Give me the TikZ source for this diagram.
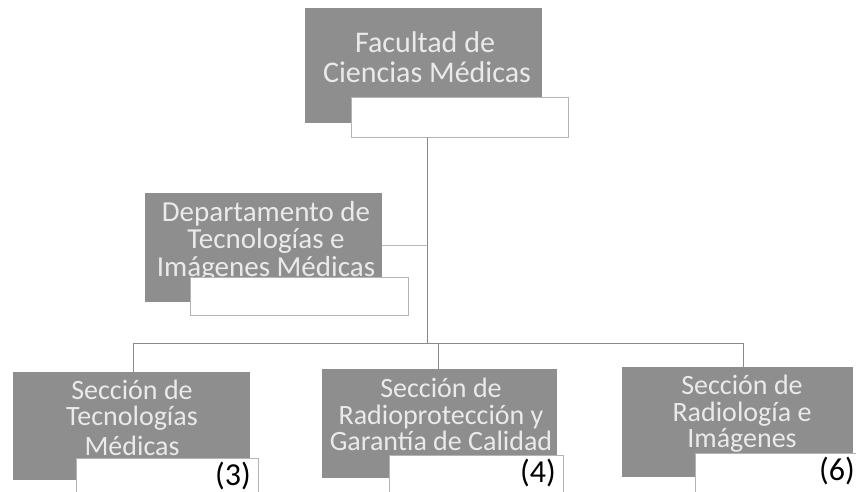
\documentclass[tikz,border=0pt]{standalone}
\usepackage{fontspec}
\setmainfont{Carlito}
\definecolor{boxgray}{HTML}{8E8E8E}
\definecolor{txtgray}{HTML}{EAEAEA}
\definecolor{linegray}{HTML}{8A8A8A}
\definecolor{wbord}{HTML}{B4B4B4}
\tikzset{
  graybox/.style={fill=boxgray, draw=none},
  whitebox/.style={fill=white, draw=wbord, line width=0.8pt},
  lblbase/.style={text=txtgray, anchor=base, inner sep=0pt, text height=14pt, text depth=2pt},
  lbltop/.style={lblbase, font=\fontsize{30}{30}\selectfont},
  lbldep/.style={lblbase, font=\fontsize{29}{29}\selectfont},
  lblsec/.style={lblbase, font=\fontsize{28}{28}\selectfont},
  numlbl/.style={text=black, anchor=base east, inner sep=0pt, font=\fontsize{32}{32}\selectfont},
  conn/.style={draw=linegray, line width=0.9pt},
}
\begin{document}
\begin{tikzpicture}[x=1pt,y=-1pt]
\useasboundingbox (0,0) rectangle (856,492);
\fill[white] (0,0) rectangle (856,492);

% Top: Facultad
\path[graybox] (305,8) rectangle (542,123);
\node[lbltop] (fac1) at (425,53) {Facultad de};
\node[lbltop] (fac2) at (427,83) {Ciencias Médicas};
\draw[whitebox] (351,97) rectangle (568,137);
\coordinate (facb) at (427,137);

% Departamento
\path[graybox] (145,193) rectangle (382,302);
\node[lbldep] (dep1) at (266,221) {Departamento de};
\node[lbldep] (dep2) at (266,248) {Tecnologías e};
\node[lbldep] (dep3) at (266,276) {Imágenes Médicas};
\draw[whitebox] (190,277) rectangle (408,315);
\coordinate (depe) at (382,245);
\coordinate (vdep) at (427,245);

% Connectors
\coordinate (hub) at (427,343);
\coordinate (h1) at (133,343);
\coordinate (h2) at (438,343);
\coordinate (h3) at (743,343);
\coordinate (s1t) at (133,372);
\coordinate (s2t) at (438,369);
\coordinate (s3t) at (743,367);
\draw[conn] (facb) -- (hub);
\draw[conn, draw=linegray!60] (depe) -- (vdep);
\draw[conn] (h1) -- (h3);
\draw[conn] (h1) -- (s1t);
\draw[conn] (h2) -- (s2t);
\draw[conn] (h3) -- (s3t);

% Section 1
\path[graybox] (13,372) rectangle (250,480);
\node[lblsec] (s1a) at (132,399) {Sección de};
\node[lblsec] (s1b) at (132,425) {Tecnologías};
\node[lblsec] (s1c) at (132,455) {Médicas};
\draw[whitebox] (76,458) rectangle (258,496);
\node[numlbl] (n3) at (251,485) {(3)};

% Section 2
\path[graybox] (322,369) rectangle (557,478);
\node[lblsec] (s2a) at (441,397) {Sección de};
\node[lblsec] (s2b) at (441,424) {Radioprotección y};
\node[lblsec] (s2c) at (441,450) {Garantía de Calidad};
\draw[whitebox] (389,455) rectangle (563,496);
\node[numlbl] (n4) at (556,482) {(4)};

% Section 3
\path[graybox] (622,367) rectangle (853,477);
\node[lblsec] (s3a) at (742,394) {Sección de};
\node[lblsec] (s3b) at (742,421) {Radiología e};
\node[lblsec] (s3c) at (742,447) {Imágenes};
\draw[whitebox] (695,453) rectangle (860,496);
\node[numlbl] (n6) at (855,480) {(6)};
\end{tikzpicture}
\end{document}
